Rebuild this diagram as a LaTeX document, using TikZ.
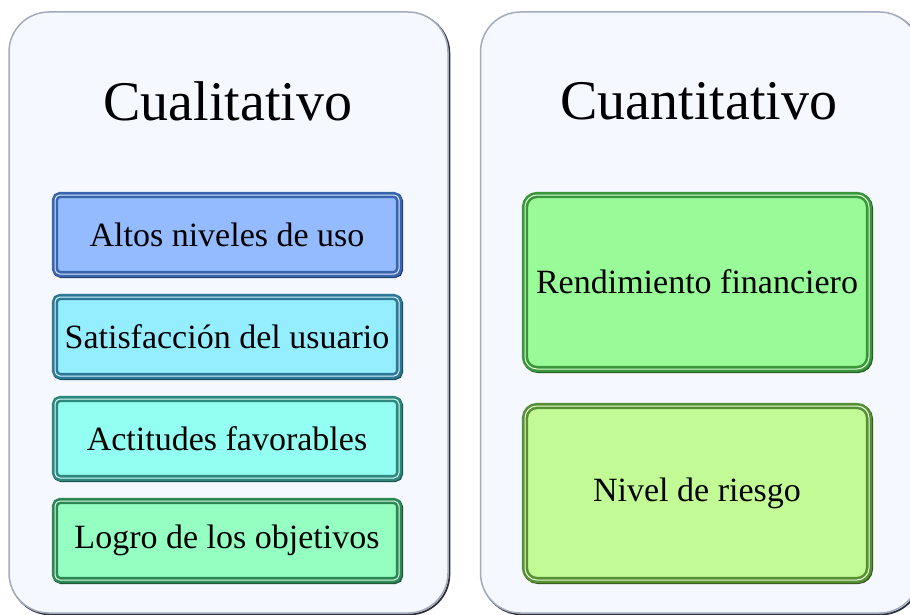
\documentclass[tikz,border=0pt]{standalone}
\usepackage{fontspec}
\setmainfont{Liberation Serif}
\newfontfamily\boxserif{Liberation Serif}
\definecolor{panelfill}{HTML}{F5F9FF}
\definecolor{panelline}{HTML}{A4AABF}
\definecolor{panelshadow}{HTML}{2E303A}
\definecolor{fA}{HTML}{94BBFF}\definecolor{dA}{HTML}{3A64AE}
\definecolor{fB}{HTML}{95EEFF}\definecolor{dB}{HTML}{2C7896}
\definecolor{fC}{HTML}{93FFF2}\definecolor{dC}{HTML}{2D877D}
\definecolor{fD}{HTML}{95FFC2}\definecolor{dD}{HTML}{2D8752}
\definecolor{fE}{HTML}{98FB98}\definecolor{dE}{HTML}{3B953B}
\definecolor{fF}{HTML}{C2FB96}\definecolor{dF}{HTML}{578F34}
\tikzset{
  panel/.style={draw=panelline, line width=1.5pt, fill=panelfill, rounded corners=40pt,
    minimum width=439pt, minimum height=601pt, inner sep=0pt,
    preaction={draw=panelshadow, line width=1.8pt, transform canvas={xshift=1.4pt,yshift=-1.4pt}}},
  titletext/.style={font=\boxserif\fontsize{56}{62}\selectfont, inner sep=0pt},
  bevelbox/.style 2 args={draw=#2, line width=2.6pt, fill=#1,
    double=#1!35!white, double distance=1pt,
    preaction={draw=#2!60!black, line width=6pt, transform canvas={xshift=1pt,yshift=-1pt}},
    inner sep=0pt, font=\boxserif\fontsize{34}{40}\selectfont},
  lbox/.style 2 args={bevelbox={#1}{#2}, rounded corners=5pt, minimum width=344pt, minimum height=79pt},
  rbox/.style 2 args={bevelbox={#1}{#2}, rounded corners=12pt, minimum width=344pt, minimum height=174pt}
}
\begin{document}
\begin{tikzpicture}[x=1pt,y=1pt]
\useasboundingbox (0,0) rectangle (910,-615);
\clip (0,0) rectangle (910,-615);
\node[panel] (pl) at (228.5,-312.5) {};
\node[panel] (pr) at (700,-312.5) {};
\node[titletext] (tl) at (228,-101) {Cualitativo};
\node[titletext] (tr) at (699,-101) {Cuantitativo};
\node[lbox={fA}{dA}] (b1) at (227,-234.5) {Altos niveles de uso};
\node[lbox={fB}{dB}] (b2) at (227,-336.5) {Satisfacción del usuario};
\node[lbox={fC}{dC}] (b3) at (227,-438.5) {Actitudes favorables};
\node[lbox={fD}{dD}] (b4) at (227,-540.5) {Logro de los objetivos};
\node[rbox={fE}{dE}] (r1) at (697,-282) {Rendimiento financiero};
\node[rbox={fF}{dF}] (r2) at (697,-493) {Nivel de riesgo};
\end{tikzpicture}
\end{document}
